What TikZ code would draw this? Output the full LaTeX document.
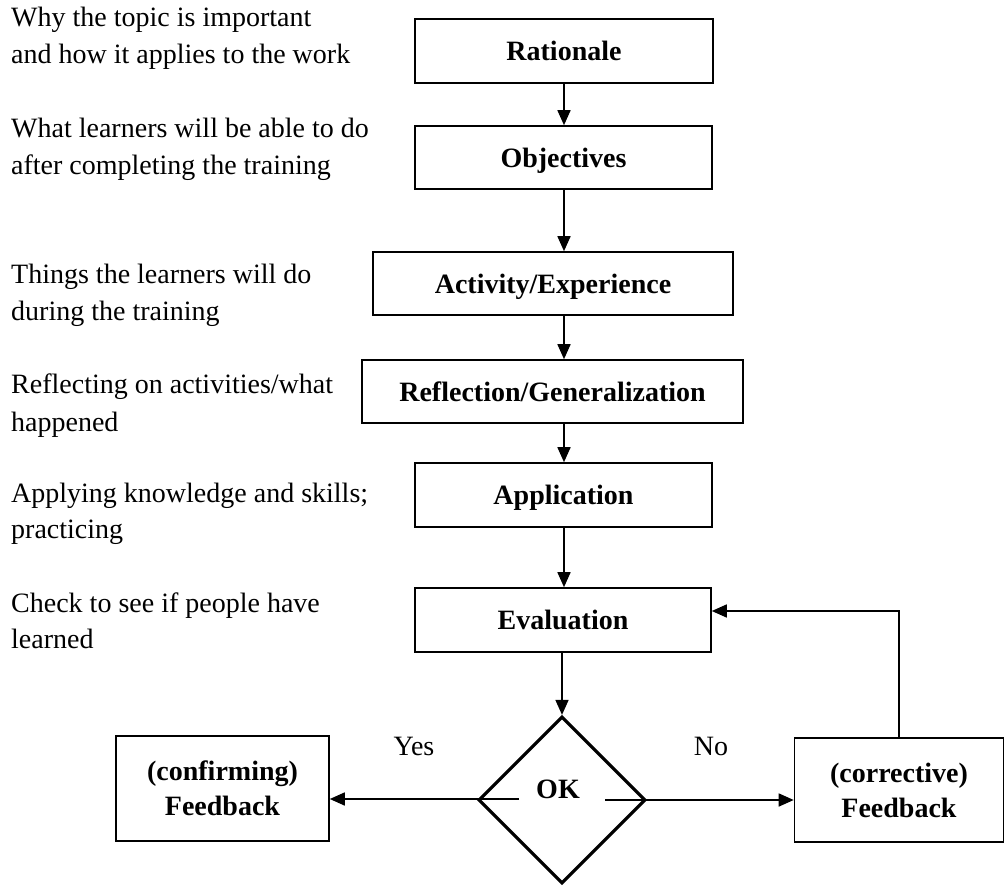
\documentclass[tikz,border=0pt]{standalone}
\usepackage{fontspec}
\setmainfont{Liberation Serif}
\usetikzlibrary{shapes.geometric,arrows.meta}
\begin{document}
\begin{tikzpicture}[x=1pt,y=-1pt,
  box/.style={draw,line width=1.6pt,inner sep=0pt,font=\fontsize{28}{35}\selectfont\bfseries,align=center},
  onebox/.style={box,text height=19pt,text depth=0pt},
  note/.style={anchor=base west,inner sep=0pt,font=\fontsize{28}{36}\selectfont},
  lbl/.style={anchor=base,inner sep=0pt,font=\fontsize{28}{36}\selectfont},
  arr/.style={line width=1.6pt,-{Triangle[length=15pt,width=13pt]}},
]
\useasboundingbox (0,0) rectangle (1005,886);

% left notes
\node[note] (n1a) at (11,27) {Why the topic is important};
\node[note] (n1b) at (11,63) {and how it applies to the work};
\node[note] (n2a) at (11,137) {What learners will be able to do};
\node[note] (n2b) at (11,174) {after completing the training};
\node[note] (n3a) at (11,283) {Things the learners will do};
\node[note] (n3b) at (11,320) {during the training};
\node[note] (n4a) at (11,393) {Reflecting on activities/what};
\node[note] (n4b) at (11,431) {happened};
\node[note] (n5a) at (11,502) {Applying knowledge and skills;};
\node[note] (n5b) at (11,538) {practicing};
\node[note] (n6a) at (11,612) {Check to see if people have};
\node[note] (n6b) at (11,648) {learned};

% boxes
\node[onebox,minimum width=298pt,minimum height=64pt] (rat) at (564,51) {Rationale};
\node[onebox,minimum width=297pt,minimum height=63pt] (obj) at (563.5,157.5) {Objectives};
\node[onebox,minimum width=360pt,minimum height=63pt] (act) at (553,283.5) {Activity/Experience};
\node[onebox,minimum width=381pt,minimum height=63pt] (ref) at (552.5,391.5) {Reflection/Generalization};
\node[onebox,minimum width=297pt,minimum height=64pt] (app) at (563.5,495) {Application};
\node[onebox,minimum width=296pt,minimum height=64pt] (eva) at (563,620) {Evaluation};

\node[draw,line width=3.2pt,shape=diamond,aspect=1,inner sep=0pt,minimum width=167pt,minimum height=167pt] (ok) at (562,800) {};
\node[lbl,font=\fontsize{28}{36}\selectfont\bfseries] (oktxt) at (558,798) {OK};

\node[box,minimum width=213pt,minimum height=105pt] (conf) at (222.5,788.5) {(confirming)\\Feedback};
\node[box,minimum width=209pt,minimum height=104pt] (corr) at (899,790) {(corrective)\\Feedback};

\node[lbl] (yes) at (414,755) {Yes};
\node[lbl] (no) at (711,755) {No};

% vertical connectors
\draw[arr] (rat.south -| 564,0) -- (obj.north -| 564,0);
\draw[arr] (obj.south -| 564,0) -- (act.north -| 564,0);
\draw[arr] (act.south -| 564,0) -- (ref.north -| 564,0);
\draw[arr] (ref.south -| 564,0) -- (app.north -| 564,0);
\draw[arr] (app.south -| 564,0) -- (eva.north -| 564,0);
\draw[arr] (eva.south -| 562,0) -- (ok.north);

% decision branches
\coordinate (yin) at (519,799);
\coordinate (nin) at (605,800);
\draw[arr] (yin) -- (conf.east |- yin);
\draw[arr] (nin) -- (corr.west |- nin);

% loop back
\coordinate (lp) at (0,611);
\draw[arr] (corr.north) |- (eva.east |- lp);
\end{tikzpicture}
\end{document}
